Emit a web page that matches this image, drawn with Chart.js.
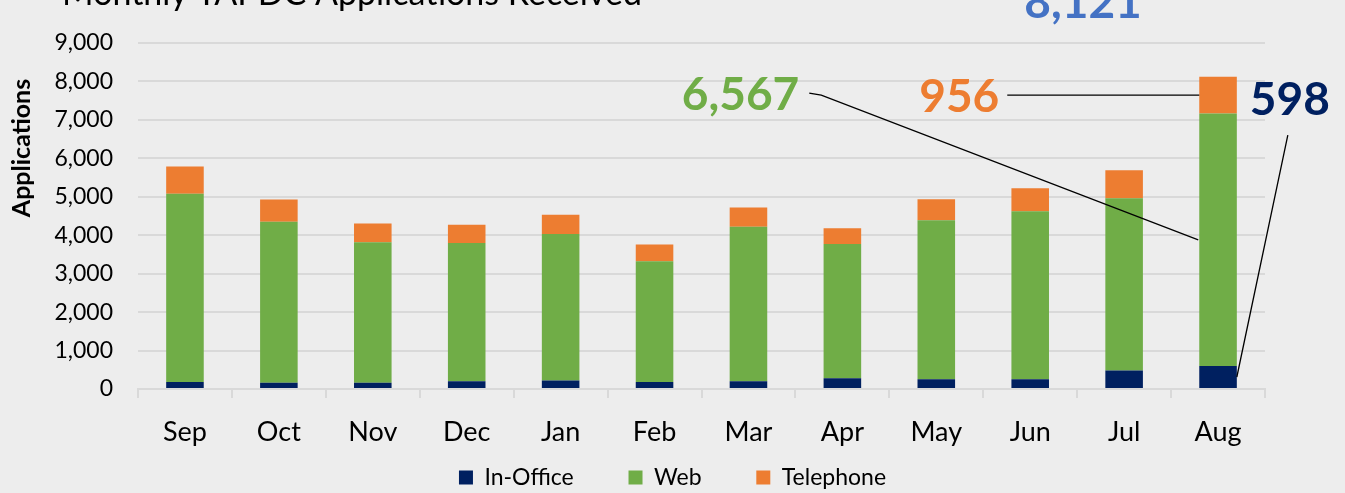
<!DOCTYPE html>
<html>
<head>
<meta charset="utf-8">
<script src="https://cdn.jsdelivr.net/npm/chart.js@4/dist/chart.umd.min.js"></script>
<style>
  html, body { margin: 0; padding: 0; background: #ededed; }
  #wrap { width: 1345px; height: 493px; }
</style>
</head>
<body>
<div id="wrap"><canvas id="appsChart" width="1345" height="493"></canvas></div>
<script>
const months = ['Sep', 'Oct', 'Nov', 'Dec', 'Jan', 'Feb', 'Mar', 'Apr', 'May', 'Jun', 'Jul', 'Aug'];
const inOffice = [180, 160, 160, 200, 220, 180, 200, 280, 255, 255, 480, 598];
const web = [4900, 4190, 3660, 3600, 3810, 3145, 4020, 3490, 4135, 4370, 4480, 6567];
const telephone = [710, 580, 485, 470, 505, 435, 500, 410, 545, 600, 730, 956];
const chartTitle = 'Monthly TAPDC Applications Received';
const yTitle = 'Applications';

const navy = '#002060';
const green = '#70AD47';
const orange = '#ED7D31';
const blue = '#4472C4';
const gridGray = '#d9d9d9';
const fontFamily = 'Lato, "Open Sans", sans-serif';

const fmt = (v) => Number(v).toLocaleString('en-US');

// title (cut off at the top) + rotated y title
const textPlugin = {
    id: 'textPlugin',
    afterDraw(chart) {
        const c = chart.ctx;
        c.save();
        c.fillStyle = '#000';
        c.font = '34px ' + fontFamily;
        c.textAlign = 'right';
        c.textBaseline = 'alphabetic';
        c.fillText(chartTitle, 642, 5);

        c.translate(22, 148);
        c.rotate(-Math.PI / 2);
        c.font = 'bold 25px ' + fontFamily;
        c.textAlign = 'center';
        c.textBaseline = 'middle';
        c.fillText(yTitle, 0, 0);
        c.restore();
    }
};

// callouts for the last month
const calloutPlugin = {
    id: 'callouts',
    afterDatasetsDraw(chart) {
        const i = months.length - 1;
        const office = chart.getDatasetMeta(0).data[i];
        const webBar = chart.getDatasetMeta(1).data[i];
        const tel = chart.getDatasetMeta(2).data[i];
        const left = tel.x - tel.width / 2;
        const right = tel.x + tel.width / 2;
        const telMid = (tel.y + tel.base) / 2;
        const webMid = (webBar.y + webBar.base) / 2;
        const offMid = (office.y + office.base) / 2;
        const total = inOffice[i] + web[i] + telephone[i];

        const c = chart.ctx;
        c.save();
        c.strokeStyle = '#000';
        c.lineWidth = 1.3;
        c.beginPath();
        c.moveTo(left - 390, telMid - 2);
        c.lineTo(left - 378, telMid);
        c.lineTo(left - 1, webMid);
        c.moveTo(left - 192, telMid);
        c.lineTo(left, telMid);
        c.moveTo(right + 51, telMid + 40);
        c.lineTo(right, offMid);
        c.stroke();

        c.font = 'bold 46px ' + fontFamily;
        c.textBaseline = 'middle';
        c.textAlign = 'right';
        c.fillStyle = green;
        c.fillText(fmt(web[i]), left - 400, telMid);
        c.fillStyle = orange;
        c.fillText(fmt(telephone[i]), left - 200, telMid + 2);
        c.textAlign = 'left';
        c.fillStyle = navy;
        c.fillText(fmt(inOffice[i]), right + 13, telMid + 5);
        c.textAlign = 'center';
        c.textBaseline = 'alphabetic';
        c.fillStyle = blue;
        c.fillText(fmt(total), tel.x - 135, tel.y - 59);
        c.restore();
    }
};

const ctx = document.getElementById('appsChart').getContext('2d');

new Chart(ctx, {
    type: 'bar',
    data: {
        labels: months,
        datasets: [
            { label: 'In-Office', data: inOffice, backgroundColor: navy },
            { label: 'Web', data: web, backgroundColor: green },
            { label: 'Telephone', data: telephone, backgroundColor: orange }
        ]
    },
    options: {
        responsive: false,
        animation: false,
        layout: {
            // negative bottom pushes the legend a bit lower
            padding: { top: 43, right: 0, left: 0, bottom: -6 }
        },
        datasets: {
            bar: { categoryPercentage: 1, barPercentage: 0.4 }
        },
        plugins: {
            title: { display: false },
            tooltip: { enabled: false },
            legend: {
                position: 'bottom',
                labels: {
                    color: '#000',
                    font: { family: fontFamily, size: 23 },
                    boxWidth: 14,
                    boxHeight: 14,
                    padding: 3,
                    generateLabels(chart) {
                        const items = Chart.defaults.plugins.legend.labels.generateLabels(chart);
                        items.forEach((it, k) => {
                            if (k < items.length - 1) it.text = it.text + '\u2003\u2003\u2003';
                            it.lineWidth = 0;
                        });
                        return items;
                    }
                }
            }
        },
        scales: {
            x: {
                stacked: true,
                afterFit(scale) { scale.height = 74; },
                grid: {
                    offset: true,
                    drawOnChartArea: false,
                    tickLength: 9,
                    color: gridGray,
                    lineWidth: 2
                },
                border: { display: true, color: gridGray, width: 2 },
                ticks: {
                    color: '#000',
                    padding: 18,
                    font: { family: fontFamily, size: 27 }
                }
            },
            y: {
                stacked: true,
                min: 0,
                max: 9000,
                afterFit(scale) { scale.width = 138; },
                grid: {
                    drawTicks: false,
                    color: gridGray,
                    lineWidth: 2
                },
                border: { display: false },
                ticks: {
                    stepSize: 1000,
                    color: '#000',
                    padding: 25,
                    font: { family: fontFamily, size: 23 },
                    callback: (v) => fmt(v)
                }
            },
            // empty right-hand space where the callouts sit
            yRight: {
                position: 'right',
                min: 0,
                max: 9000,
                afterFit(scale) { scale.width = 80; },
                grid: { display: false },
                border: { display: false },
                ticks: { display: false }
            }
        }
    },
    plugins: [textPlugin, calloutPlugin]
});
</script>
</body>
</html>
